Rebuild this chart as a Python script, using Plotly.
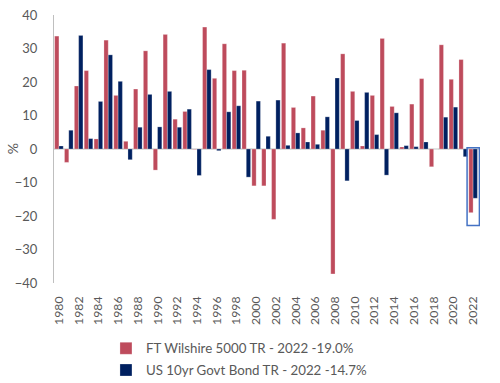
import plotly.graph_objects as go

years = [str(y) for y in range(1980, 2023)]
wilshire = [33.7, -4.0, 18.8, 23.4, 3.0, 32.5, 16.0, 2.3, 17.9, 29.3,
            -6.3, 34.2, 8.9, 11.2, -0.1, 36.4, 21.1, 31.4, 23.4, 23.5,
            -11.0, -11.0, -21.0, 31.6, 12.4, 6.3, 15.8, 5.6, -37.3, 28.4,
            17.2, 0.9, 16.0, 33.0, 12.7, 0.6, 13.4, 21.0, -5.3, 31.1,
            20.8, 26.7, -19.0]
bond = [0.9, 5.6, 33.9, 3.1, 14.2, 28.1, 20.2, -3.2, 6.5, 16.3,
        6.6, 17.2, 6.5, 11.9, -7.9, 23.7, -0.5, 11.1, 12.9, -8.4,
        14.3, 3.8, 14.6, 1.1, 4.8, 2.1, 1.4, 9.6, 21.2, -9.5,
        8.5, 16.9, 4.3, -7.8, 10.8, 1.0, 0.7, 2.1, 0.0, 9.5,
        12.5, -2.3, -14.7]
tick_years = years[::2]
y_ticks = [40, 30, 20, 10, 0, -10, -20, -30, -40]

red = "#BE4B5C"
navy = "#002060"
grey_txt = "#595959"
font = "Lato"

fig = go.Figure()
fig.add_trace(go.Bar(x=years, y=wilshire, name="FT Wilshire 5000 TR - 2022 -19.0%",
                     marker=dict(color=red, line=dict(color="rgba(255,255,255,0.5)", width=0.5)),
                     legend="legend"))
fig.add_trace(go.Bar(x=years, y=bond, name="US 10yr Govt Bond TR - 2022 -14.7%",
                     marker=dict(color=navy, line=dict(color="rgba(255,255,255,0.5)", width=0.5)),
                     legend="legend2"))

fig.add_shape(type="rect", xref="x", yref="y",
              x0=41.39, x1=42.64, y0=0.4, y1=-22.8,
              line=dict(color="#4472C4", width=1.5), fillcolor="rgba(0,0,0,0)")

fig.add_annotation(text="%", xref="paper", yref="y", x=-0.098, y=0,
                   xanchor="center", yanchor="middle", showarrow=False,
                   textangle=-90, font=dict(size=14, color=grey_txt))

leg_common = dict(xanchor="left", yanchor="middle",
                  font=dict(size=13.3, color=grey_txt), bgcolor="rgba(0,0,0,0)",
                  itemwidth=30, tracegroupgap=0)
fig.update_layout(
    width=500, height=383,
    margin=dict(l=54, r=20, t=15, b=100, autoexpand=False),
    paper_bgcolor="white", plot_bgcolor="white",
    barmode="group", bargap=0.13, bargroupgap=0,
    font=dict(family=font, color=grey_txt),
    legend=dict(x=0.122, y=-0.245, **leg_common),
    legend2=dict(x=0.122, y=-0.326, **leg_common),
    showlegend=True,
)
fig.update_xaxes(type="category", range=[-0.5, 42.7], tickmode="array",
                 tickvals=tick_years, ticktext=tick_years, tickangle=-90,
                 tickfont=dict(size=12.3, color=grey_txt), showgrid=False,
                 showline=False, ticks="", zeroline=False, automargin=False,
                 ticklabelstandoff=10)
fig.update_yaxes(range=[-40, 40], tickmode="array", tickvals=y_ticks,
                 tickfont=dict(size=13, color=grey_txt), showgrid=False,
                 showline=True, linecolor="#BFBFBF", linewidth=1,
                 zeroline=True, zerolinecolor="#D9D9D9", zerolinewidth=1.5,
                 ticks="", ticklabelstandoff=13, automargin=False,
                 ticklabeloverflow="allow")

fig.write_html("out.html", config={"displayModeBar": False},
               post_script="document.body.style.margin='0';document.body.style.overflow='hidden';")
